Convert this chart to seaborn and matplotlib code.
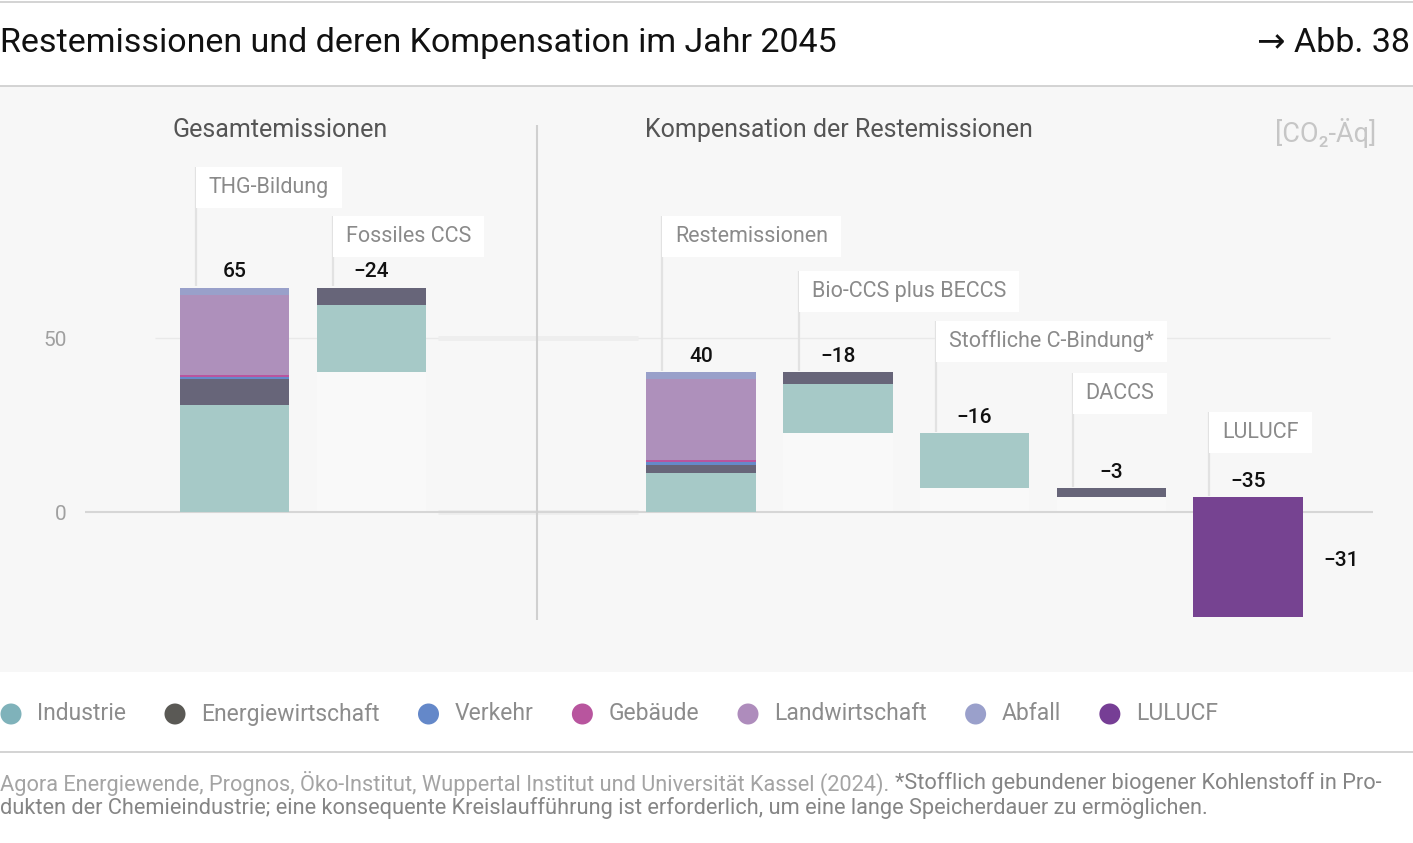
import numpy as np
import pandas as pd
import matplotlib
matplotlib.use("Agg")
import matplotlib.pyplot as plt
import seaborn as sns
from matplotlib.patches import Rectangle, Circle

# ---------------- data ----------------
categories = ["THG-Bildung", "Fossiles CCS", "Restemissionen", "Bio-CCS plus BECCS",
              "Stoffliche C-Bindung*", "DACCS", "LULUCF"]
bar_kind = ["total", "delta", "total", "delta", "delta", "delta", "delta"]
sectors = ["Industrie", "Energiewirtschaft", "Verkehr", "Gebäude",
           "Landwirtschaft", "Abfall", "LULUCF"]
industrie = [30.7, 19.3, 11.3, 14.1, 15.9, 0.0, 0.0]
energiewirtschaft = [7.5, 5.0, 2.3, 3.3, 0.0, 2.5, 0.0]
verkehr = [0.6, 0.0, 0.7, 0.0, 0.0, 0.0, 0.0]
gebaeude = [0.7, 0.0, 0.7, 0.0, 0.0, 0.0, 0.0]
landwirtschaft = [23.0, 0.0, 23.3, 0.0, 0.0, 0.0, 0.0]
abfall = [1.9, 0.0, 1.8, 0.0, 0.0, 0.0, 0.0]
lulucf = [0.0, 0.0, 0.0, 0.0, 0.0, 0.0, 34.5]
value_labels = ["65", "−24", "40", "−18", "−16", "−3", "−35"]
final_label = "−31"
section_titles = ["Gesamtemissionen", "Kompensation der Restemissionen"]
yticks = [0, 50]
unit_label = "[CO₂-Äq]"
title = "Restemissionen und deren Kompensation im Jahr 2045"
fig_ref = "→ Abb. 38"
source_text = "Agora Energiewende, Prognos, Öko-Institut, Wuppertal Institut und Universität Kassel (2024). "
note_line1 = "*Stofflich gebundener biogener Kohlenstoff in Pro-"
note_line2 = "dukten der Chemieindustrie; eine konsequente Kreislaufführung ist erforderlich, um eine lange Speicherdauer zu ermöglichen."

series = {"Industrie": industrie, "Energiewirtschaft": energiewirtschaft, "Verkehr": verkehr,
          "Gebäude": gebaeude, "Landwirtschaft": landwirtschaft, "Abfall": abfall, "LULUCF": lulucf}

# ---------------- styles / layout ----------------
bar_colors = {"Industrie": "#a6c9c7", "Energiewirtschaft": "#676579", "Verkehr": "#6589c9",
              "Gebäude": "#b8559e", "Landwirtschaft": "#ae90bb", "Abfall": "#99a0ca",
              "LULUCF": "#764391"}
legend_colors = {"Industrie": "#7fb2ba", "Energiewirtschaft": "#5a5955", "Verkehr": "#6488c9",
                 "Gebäude": "#b8559e", "Landwirtschaft": "#ae8cbc", "Abfall": "#9aa0cb",
                 "LULUCF": "#763e95"}
positions = [0.0, 1.0, 3.41, 4.41, 5.41, 6.41, 7.41]
label_box_top_px = [167, 216, 216, 271, 321, 373, 412]
W, H = 1413, 843
X0PX, XSCALE = 234.5, 136.8
Y0PX, YSCALE = 512.0, 3.48
AX_L, AX_R, AX_T, AX_B = 85, 1373, 100, 660


def px2x(px):
    return (px - X0PX) / XSCALE


def px2y(py):
    return (Y0PX - py) / YSCALE


sns.set_theme(style="white")
plt.rcParams["font.family"] = ["Roboto", "DejaVu Sans"]

fig = plt.figure(figsize=(W / 100, H / 100), dpi=100)
fig.patch.set_facecolor("white")

# decoration axes in pixel coordinates
dax = fig.add_axes([0, 0, 1, 1], zorder=0)
dax.set_xlim(0, W)
dax.set_ylim(H, 0)
dax.axis("off")
dax.add_patch(Rectangle((0, 86), W, 672 - 86, facecolor="#f7f7f7", edgecolor="none"))
dax.hlines([2, 85.5], 0, W, color="#cccccc", lw=1.2)
dax.hlines([752], 0, W, color="#cccccc", lw=1.2)

dax.text(0, 43, title, fontsize=24.5, color="#111111", ha="left", va="center")
dax.text(1410, 43, fig_ref, fontsize=24.5, color="#111111", ha="right", va="center")

# data axes
ax = fig.add_axes([AX_L / W, 1 - AX_B / H, (AX_R - AX_L) / W, (AX_B - AX_T) / H], zorder=1)
ax.set_facecolor("none")

# stacking
stack_up = ["Industrie", "Energiewirtschaft", "Verkehr", "Gebäude", "Landwirtschaft", "Abfall", "LULUCF"]
stack_down = ["Energiewirtschaft", "Industrie", "Verkehr", "Gebäude", "Landwirtschaft", "Abfall", "LULUCF"]
records = []
tops, lows = [], []
level = 0.0
for i, cat in enumerate(categories):
    if bar_kind[i] == "total":
        cur = 0.0
        for s in stack_up:
            v = series[s][i]
            records.append(dict(pos=positions[i], sector=s, height=v, bottom=cur))
            cur += v
        tops.append(cur)
        lows.append(0.0)
        level = cur
    else:
        cur = level
        tops.append(cur)
        for s in stack_down:
            v = series[s][i]
            records.append(dict(pos=positions[i], sector=s, height=v, bottom=cur - v))
            cur -= v
        lows.append(cur)
        level = cur
df = pd.DataFrame(records)

# ghost bars under floating bars
ghost = pd.DataFrame(dict(pos=positions,
                          height=[max(l, 0.0) if k == "delta" else 0.0 for l, k in zip(lows, bar_kind)]))
sns.barplot(data=ghost, x="pos", y="height", native_scale=True, color="#f9f9f9", saturation=1,
            width=0.8, errorbar=None, linewidth=0, ax=ax, zorder=1)

for s in sectors:
    sub = df[df.sector == s].sort_values("pos")
    sns.barplot(data=sub, x="pos", y="height", native_scale=True, color=bar_colors[s], saturation=1,
                width=0.8, errorbar=None, bottom=sub["bottom"].to_numpy(), linewidth=0,
                ax=ax, zorder=3)

# grid / axis lines
ax.hlines(50, px2x(155), px2x(1330), color="#e9e9e9", lw=1, zorder=0.5)
ax.hlines([50, 0], px2x(438), px2x(638), color="#eeeeee", lw=3.5, zorder=0.6)
ax.axhline(0, color="#d6d6d6", lw=1.5, zorder=2)
ax.vlines(px2x(537), px2y(620), px2y(125), color="#d0d0d0", lw=1.5, zorder=2)

ax.set_xlim(px2x(AX_L), px2x(AX_R))
ax.set_ylim(px2y(AX_B), px2y(AX_T))
ax.set_xticks([])
ax.set_yticks(yticks)
ax.set_yticklabels([str(t) for t in yticks])
ax.tick_params(axis="y", length=0, pad=13, labelsize=15, labelcolor="#a0a0a0")
for sp in ax.spines.values():
    sp.set_visible(False)
ax.set_xlabel("")
ax.set_ylabel("")

# section headings and unit
ax.text(px2x(280.5), px2y(130), section_titles[0], fontsize=18, color="#555555", ha="center", va="center")
ax.text(px2x(838.5), px2y(130), section_titles[1], fontsize=18, color="#555555", ha="center", va="center")
ax.text(px2x(1376), px2y(133), unit_label, fontsize=19.5, color="#c6c6c6", ha="right", va="center",
        family=["Roboto", "DejaVu Sans"])

fig.canvas.draw()
renderer = fig.canvas.get_renderer()

# value labels, annotation boxes
box_h = 41 / YSCALE
pad_px = 13
for i, cat in enumerate(categories):
    xc = positions[i]
    ax.text(xc, tops[i] + 16 / YSCALE, value_labels[i], fontsize=15, color="#111111",
            ha="center", va="center", zorder=5, fontweight="medium")
    xl = xc - 0.4 + 16 / XSCALE
    ybox_top = px2y(label_box_top_px[i])
    t = ax.text(xl + pad_px / XSCALE, ybox_top - box_h / 2, cat, fontsize=15.5, color="#8a8a8a",
                ha="left", va="center", zorder=5)
    tw = t.get_window_extent(renderer).width
    ax.add_patch(Rectangle((xl, ybox_top - box_h), (tw + 2 * pad_px) / XSCALE, box_h,
                           facecolor="white", edgecolor="none", zorder=4))
    ax.vlines(xl, tops[i] + 0.4, ybox_top, color="#e2e2e2", lw=1.6, zorder=2.5)

# final value label
ax.text(positions[-1] + 0.4 + 20 / XSCALE, (tops[-1] + lows[-1]) / 2 - 1, final_label, fontsize=15,
        color="#111111", ha="left", va="center", zorder=5, fontweight="medium")

# legend
x = 0.0
for s in sectors:
    cx = x + 11
    dax.add_patch(Circle((cx, 714), 10.5, facecolor=legend_colors[s], edgecolor="none"))
    t = dax.text(cx + 26, 714, s, fontsize=16.5, color="#8c8c8c", ha="left", va="center")
    tw = t.get_window_extent(renderer).width
    x = cx + 26 + tw + 38

# footer
t1 = dax.text(0, 783, source_text, fontsize=15.7, color="#a4a4a4", ha="left", va="center")
w1 = t1.get_window_extent(renderer).width
dax.text(w1, 783, note_line1, fontsize=15.7, color="#858585", ha="left", va="center")
dax.text(0, 808, note_line2, fontsize=15.7, color="#858585", ha="left", va="center")

fig.savefig("out.png", dpi=100, facecolor="white")
